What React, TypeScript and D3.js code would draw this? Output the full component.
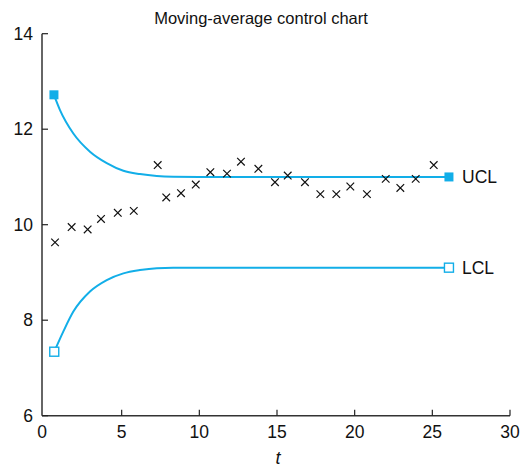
import React from "react";
import * as d3 from "d3";

const tVals = [0.71, 1.78, 2.81, 3.67, 4.75, 5.78, 7.32, 7.87, 8.82, 9.77, 10.71, 11.78, 12.68, 13.8, 14.87, 15.69, 16.8, 17.79, 18.82, 19.72, 20.79, 22.0, 22.94, 23.93, 25.09];
const values = [9.63, 9.95, 9.9, 10.12, 10.25, 10.29, 11.25, 10.57, 10.66, 10.84, 11.1, 11.07, 11.32, 11.17, 10.89, 11.03, 10.89, 10.64, 10.64, 10.8, 10.64, 10.96, 10.77, 10.96, 11.25];

const uclT = [0.64, 1.03, 1.89, 2.96, 4.04, 5.11, 6.18, 7.26, 8.32, 10, 26.07];
const uclVals = [12.72, 12.4, 11.91, 11.53, 11.29, 11.13, 11.06, 11.02, 11.005, 11.0, 11.0];
const lclT = [0.66, 1.24, 1.89, 2.96, 4.04, 5.11, 6.18, 7.26, 8.32, 10, 26.07];
const lclVals = [7.34, 7.76, 8.18, 8.6, 8.84, 8.98, 9.05, 9.09, 9.1, 9.1, 9.1];

const xTicks = [0, 5, 10, 15, 20, 25, 30];
const yTicks = [6, 8, 10, 12, 14];
const title = "Moving-average control chart";
const xLabel = "t";

const W = 522;
const H = 467;
const BLUE = "#12aee8";
const FONT = "'Liberation Sans', Arial, Helvetica, sans-serif";

export default function App() {
  const x = d3.scaleLinear().domain([0, 30]).range([44, 510]);
  const y = d3.scaleLinear().domain([6, 14]).range([415.7, 33.7]);
  const axisX = 42;

  const line = d3
    .line<[number, number]>()
    .x((d) => x(d[0]))
    .y((d) => y(d[1]))
    .curve(d3.curveMonotoneX);

  const ucl = uclT.map((t, i) => [t, uclVals[i]] as [number, number]);
  const lcl = lclT.map((t, i) => [t, lclVals[i]] as [number, number]);
  const sq = 9;
  const xs = 3.8;

  const uEnd = ucl[ucl.length - 1];
  const lEnd = lcl[lcl.length - 1];

  return (
    <svg
      width={W}
      height={H}
      style={{ position: "absolute", left: 0, top: 0, background: "#fff" }}
      fontFamily={FONT}
    >
      <text x={261} y={24} textAnchor="middle" fontSize={16.5} fill="#111">
        {title}
      </text>

      {/* axes */}
      <line x1={axisX} x2={axisX} y1={y(14)} y2={y(6)} stroke="#666" strokeWidth={2} />
      <line x1={axisX} x2={x(30)} y1={y(6)} y2={y(6)} stroke="#333" strokeWidth={1.6} />

      {yTicks.map((v) => (
        <g key={"y" + v}>
          <line x1={axisX} x2={axisX + 6} y1={y(v)} y2={y(v)} stroke="#222" strokeWidth={1.2} />
          <text x={33} y={y(v)} dy="0.35em" textAnchor="end" fontSize={17.5} fill="#111">
            {v}
          </text>
        </g>
      ))}
      {xTicks.map((v) => (
        <g key={"x" + v}>
          {v > 0 && (
            <line x1={x(v)} x2={x(v)} y1={y(6)} y2={y(6) - 6} stroke="#222" strokeWidth={1.2} />
          )}
          <text x={v === 0 ? axisX : x(v)} y={437.5} textAnchor="middle" fontSize={17.5} fill="#111">
            {v}
          </text>
        </g>
      ))}
      <text x={278} y={464} textAnchor="middle" fontSize={18} fontStyle="italic" fill="#111">
        {xLabel}
      </text>

      {/* control limits */}
      <path d={line(ucl) || ""} fill="none" stroke={BLUE} strokeWidth={2} />
      <path d={line(lcl) || ""} fill="none" stroke={BLUE} strokeWidth={2} />
      <rect x={x(ucl[0][0]) - sq / 2} y={y(ucl[0][1]) - sq / 2} width={sq} height={sq} fill={BLUE} />
      <rect x={x(uEnd[0]) - sq / 2} y={y(uEnd[1]) - sq / 2} width={sq} height={sq} fill={BLUE} />
      <rect x={x(lcl[0][0]) - sq / 2} y={y(lcl[0][1]) - sq / 2} width={sq} height={sq} fill="#fff" stroke={BLUE} strokeWidth={1.4} />
      <rect x={x(lEnd[0]) - sq / 2} y={y(lEnd[1]) - sq / 2} width={sq} height={sq} fill="#fff" stroke={BLUE} strokeWidth={1.4} />
      <text x={462} y={y(uEnd[1])} dy="0.36em" fontSize={17.5} fill="#111">
        UCL
      </text>
      <text x={462} y={y(lEnd[1])} dy="0.36em" fontSize={17.5} fill="#111">
        LCL
      </text>

      {/* observations */}
      {tVals.map((t, i) => {
        const cx = x(t);
        const cy = y(values[i]);
        return (
          <path
            key={"p" + i}
            d={`M${cx - xs},${cy - xs}L${cx + xs},${cy + xs}M${cx - xs},${cy + xs}L${cx + xs},${cy - xs}`}
            stroke="#111"
            strokeWidth={1.2}
          />
        );
      })}
    </svg>
  );
}
